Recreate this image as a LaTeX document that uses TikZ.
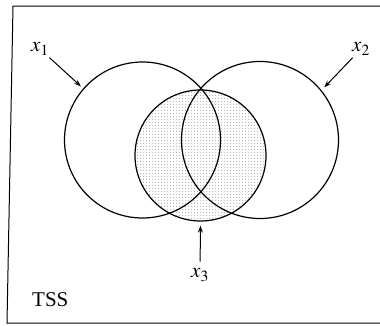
\documentclass[tikz,border=0pt]{standalone}
\usepackage{mathptmx}
\usepackage[no-math]{fontspec}
\setmainfont{Liberation Serif}
\usetikzlibrary{arrows.meta,patterns}
\pgfdeclarepatternformonly{finedots}{\pgfqpoint{-1pt}{-1pt}}{\pgfqpoint{2pt}{2pt}}{\pgfqpoint{3pt}{3pt}}{%
  \pgfpathcircle{\pgfqpoint{0pt}{0pt}}{0.55pt}\pgfusepath{fill}}
\begin{document}
\begin{tikzpicture}[x=1pt,y=-1pt,
  ring/.style={draw,circle,line width=1.2pt,inner sep=0pt},
  lab/.style={font=\fontsize{21}{25}\selectfont,inner sep=1pt},
  arr/.style={line width=1pt,-{Stealth[length=7pt,width=5pt]}}]
\useasboundingbox (0,0) rectangle (380,325);
% frame
\draw[line width=1pt] (380,6) -- (13,6) -- (7,323) -- (380,323);
% shaded circle
\node[ring,minimum size=131pt,pattern=finedots,pattern color=black!75] (c3) at (200.5,155.5) {};
\node[ring,minimum size=156pt] (c1) at (142.5,140) {};
\node[ring,minimum size=157pt] (c2) at (260,140) {};
% labels
\node[lab] (x1) at (40,49) {$x_1$};
\node[lab] (x2) at (361,49) {$x_2$};
\node[lab] (x3) at (200,275) {$x_3$};
\node[lab,anchor=base west] (tss) at (31,306) {TSS};
% arrows
\draw[arr,shorten <=2pt,shorten >=3pt] (x1) -- (c1.139);
\draw[arr,shorten <=2pt,shorten >=4pt] (x2) -- (c2.39);
\draw[arr,shorten <=6pt,shorten >=4pt] (x3) -- (c3.south);
\end{tikzpicture}
\end{document}
